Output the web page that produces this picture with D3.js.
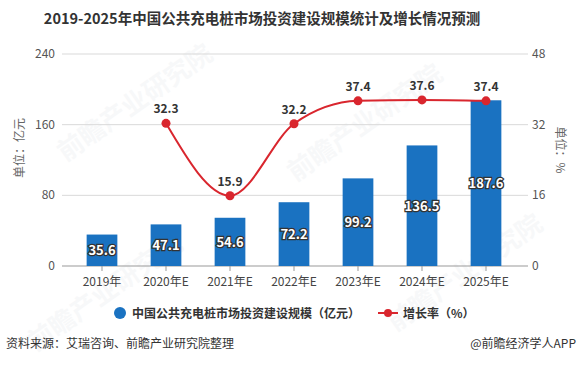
<!DOCTYPE html>
<html>
<head>
<meta charset="utf-8">
<script src="https://cdn.jsdelivr.net/npm/d3@7"></script>
<style>
  body { margin: 0; background: #fff; }
  svg { display: block; font-family: "Microsoft YaHei", "Noto Sans CJK SC", sans-serif; }
</style>
</head>
<body>
<div id="chart-area"></div>
<script>
// Data
const years = ["2019年", "2020年E", "2021年E", "2022年E", "2023年E", "2024年E", "2025年E"];
const investment = [35.6, 47.1, 54.6, 72.2, 99.2, 136.5, 187.6];
const growthYears = ["2020年E", "2021年E", "2022年E", "2023年E", "2024年E", "2025年E"];
const growth = [32.3, 15.9, 32.2, 37.4, 37.6, 37.4];
const leftTicks = [0, 80, 160, 240];
const rightTicks = [0, 16, 32, 48];

const W = 579, H = 365;
const barColor = "#1a72c1";
const lineColor = "#d9262e";

const svg = d3.select("#chart-area")
    .append("svg")
    .attr("width", W)
    .attr("height", H);

// Scales
const x = d3.scaleBand().domain(years).range([70, 518]).paddingInner(0.52).paddingOuter(0.26);
const yL = d3.scaleLinear().domain([0, 240]).range([266, 54]);
const yR = d3.scaleLinear().domain([0, 48]).range([266, 54]);
const cx = d => x(d) + x.bandwidth() / 2;

// Watermarks (faint)
const wm = [[140, 110], [370, 130], [110, 300], [470, 280]];
wm.forEach(p => {
    svg.append("text")
        .attr("transform", `translate(${p[0]},${p[1]}) rotate(-35)`)
        .attr("text-anchor", "middle")
        .attr("font-size", 26)
        .attr("font-weight", "bold")
        .attr("fill", "#9aa4b0")
        .attr("opacity", 0.07)
        .text("前瞻产业研究院");
});

// Title
svg.append("text")
    .attr("x", 262)
    .attr("y", 24)
    .attr("text-anchor", "middle")
    .attr("font-size", 14.5)
    .attr("font-weight", "bold")
    .attr("fill", "#333")
    .text("2019-2025年中国公共充电桩市场投资建设规模统计及增长情况预测");

// Gridlines + tick labels
leftTicks.forEach(t => {
    svg.append("line")
        .attr("x1", 62).attr("x2", 528)
        .attr("y1", yL(t)).attr("y2", yL(t))
        .attr("stroke", t === 0 ? "#999" : "#d9d9d9")
        .attr("stroke-width", 1);
    svg.append("text")
        .attr("x", 55).attr("y", yL(t) + 4)
        .attr("text-anchor", "end")
        .attr("font-size", 12)
        .attr("fill", "#555")
        .text(t);
});
rightTicks.forEach(t => {
    svg.append("text")
        .attr("x", 532).attr("y", yR(t) + 4)
        .attr("font-size", 12)
        .attr("fill", "#555")
        .text(t);
});

// X axis ticks and labels
const xAxis = svg.append("g");
years.forEach(d => {
    xAxis.append("line")
        .attr("x1", cx(d)).attr("x2", cx(d))
        .attr("y1", 266).attr("y2", 271)
        .attr("stroke", "#999");
    xAxis.append("text")
        .attr("x", cx(d)).attr("y", 286)
        .attr("text-anchor", "middle")
        .attr("font-size", 12)
        .attr("fill", "#444")
        .text(d);
});

// Axis titles
svg.append("text")
    .attr("transform", "translate(24,148) rotate(-90)")
    .attr("text-anchor", "middle")
    .attr("font-size", 12)
    .attr("fill", "#666")
    .text("单位：亿元");
svg.append("text")
    .attr("transform", "translate(556,150) rotate(90)")
    .attr("text-anchor", "middle")
    .attr("font-size", 12)
    .attr("fill", "#666")
    .text("单位：%");

// Bars
svg.selectAll("rect.bar")
    .data(investment)
    .enter()
    .append("rect")
    .attr("class", "bar")
    .attr("x", (d, i) => x(years[i]))
    .attr("y", d => yL(d))
    .attr("width", x.bandwidth())
    .attr("height", d => yL(0) - yL(d))
    .attr("fill", barColor);

svg.selectAll("text.barlabel")
    .data(investment)
    .enter()
    .append("text")
    .attr("class", "barlabel")
    .attr("x", (d, i) => cx(years[i]))
    .attr("y", d => (yL(d) + yL(0)) / 2 + 5)
    .attr("text-anchor", "middle")
    .attr("font-size", 13)
    .attr("font-weight", "bold")
    .attr("fill", "#fff")
    .attr("stroke", "#333")
    .attr("stroke-width", 2.5)
    .attr("paint-order", "stroke")
    .text(d => d.toFixed(1));

// Growth line
const line = d3.line()
    .x((d, i) => cx(growthYears[i]))
    .y(d => yR(d))
    .curve(d3.curveMonotoneX);

svg.append("path")
    .datum(growth)
    .attr("d", line)
    .attr("fill", "none")
    .attr("stroke", lineColor)
    .attr("stroke-width", 2);

svg.selectAll("circle.pt")
    .data(growth)
    .enter()
    .append("circle")
    .attr("class", "pt")
    .attr("cx", (d, i) => cx(growthYears[i]))
    .attr("cy", d => yR(d))
    .attr("r", 4.5)
    .attr("fill", lineColor);

svg.selectAll("text.ptlabel")
    .data(growth)
    .enter()
    .append("text")
    .attr("class", "ptlabel")
    .attr("x", (d, i) => cx(growthYears[i]))
    .attr("y", d => yR(d) - 10)
    .attr("text-anchor", "middle")
    .attr("font-size", 12)
    .attr("font-weight", "bold")
    .attr("fill", "#333")
    .text(d => d.toFixed(1));

// Legend
const lg = svg.append("g");
lg.append("circle").attr("cx", 120).attr("cy", 313).attr("r", 6).attr("fill", barColor);
lg.append("text").attr("x", 132).attr("y", 318)
    .attr("font-size", 12).attr("font-weight", "bold").attr("fill", "#333")
    .text("中国公共充电桩市场投资建设规模（亿元）");
lg.append("line").attr("x1", 378).attr("x2", 398).attr("y1", 313).attr("y2", 313)
    .attr("stroke", lineColor).attr("stroke-width", 2);
lg.append("circle").attr("cx", 388).attr("cy", 313).attr("r", 4).attr("fill", lineColor);
lg.append("text").attr("x", 403).attr("y", 318)
    .attr("font-size", 12).attr("font-weight", "bold").attr("fill", "#333")
    .text("增长率（%）");

// Footer
svg.append("text")
    .attr("x", 6).attr("y", 348)
    .attr("font-size", 12).attr("fill", "#333")
    .text("资料来源：艾瑞咨询、前瞻产业研究院整理");
svg.append("text")
    .attr("x", 576).attr("y", 348)
    .attr("text-anchor", "end")
    .attr("font-size", 12).attr("fill", "#333")
    .text("@前瞻经济学人APP");
</script>
</body>
</html>
